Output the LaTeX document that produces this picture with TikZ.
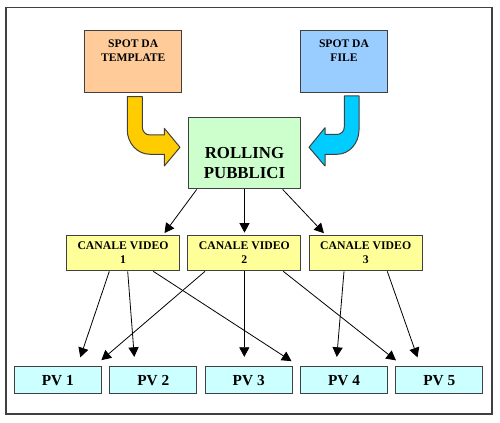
\documentclass[tikz,border=0pt]{standalone}
\usepackage{fontspec}
\setmainfont{Liberation Serif}
\usepackage{xcolor}
\usepackage{tikz}
\usetikzlibrary{arrows.meta,calc}

\definecolor{peach}{HTML}{FFCC99}
\definecolor{skyblue}{HTML}{99CCFF}
\definecolor{mint}{HTML}{CCFFCC}
\definecolor{lemon}{HTML}{FFFF99}
\definecolor{aqua}{HTML}{CCFFFF}
\definecolor{gold}{HTML}{FFCC00}
\definecolor{cyanarrow}{HTML}{00CCFF}
\definecolor{edge}{HTML}{404040}

\begin{document}
\begin{tikzpicture}[x=0.75pt,y=0.75pt,yscale=-1,xscale=1,
  box/.style={draw=edge,line width=0.75pt,inner sep=0pt,font=\bfseries},
  spotbox/.style={box,minimum height=46.5pt,font=\fontsize{8.7pt}{10pt}\selectfont\bfseries},
  canalebox/.style={box,fill=lemon,minimum width=84.5pt,minimum height=26.8pt,align=center,font=\fontsize{8.8pt}{10.5pt}\selectfont\bfseries},
  pvbox/.style={box,fill=aqua,minimum width=65.25pt,minimum height=20.25pt,font=\fontsize{11.5pt}{13pt}\selectfont\bfseries},
  arr/.style={-{Triangle[length=7.2pt,width=7.6pt]},line width=0.6pt},
  blockarrow/.style={draw=edge,line width=0.75pt,line join=round}]
\useasboundingbox (0,0) rectangle (500,423);

%Shape: Rectangle (frame)
\draw [color=edge,line width=1pt] (6,7.5) rectangle (492,414);

% Text Node
\node [spotbox,fill=peach,minimum width=72.75pt] (tpl) at (133.2,62)
  {\parbox[c][46.5pt][t]{72pt}{\vspace*{6.75pt}\centering SPOT DA\\TEMPLATE\par}};
% Text Node
\node [spotbox,fill=skyblue,minimum width=65pt] (file) at (344,62)
  {\parbox[c][46.5pt][t]{64pt}{\vspace*{6.75pt}\centering SPOT DA\\FILE\par}};
% Text Node
\node [box,fill=mint,minimum width=84.3pt,minimum height=53.5pt,font=\fontsize{12.6pt}{15pt}\selectfont\bfseries] (roll) at (244.5,153.3)
  {\parbox[c][53.5pt][t]{84pt}{\vspace*{22pt}\centering ROLLING\\PUBBLICI\par}};

% Text Node
\node [canalebox] (cv1) at (123,253) {CANALE VIDEO\\1};
% Text Node
\node [canalebox] (cv2) at (244.3,253) {CANALE VIDEO\\2};
% Text Node
\node [canalebox] (cv3) at (365.7,253) {CANALE VIDEO\\3};

% Text Node
\node [pvbox] (pv1) at (57.8,380.2) {PV 1};
% Text Node
\node [pvbox] (pv2) at (153.3,380.2) {PV 2};
% Text Node
\node [pvbox] (pv3) at (248.7,380.2) {PV 3};
% Text Node
\node [pvbox] (pv4) at (344,380.2) {PV 4};
% Text Node
\node [pvbox] (pv5) at (439.3,380.2) {PV 5};

%Shape: Bent Arrow (template)
\draw [blockarrow,fill=gold] (127.3,96.7) -- (142.3,96.7) -- (142.3,127)
  .. controls (142.3,131.5) and (145.5,135) .. (150,135) -- (164.3,135) -- (164.3,128.3)
  -- (180,147.3) -- (164.3,166) -- (164.3,154.3) -- (150,154.3)
  .. controls (137.5,154.3) and (127.3,143.4) .. (127.3,130) -- cycle ;
%Shape: Bent Arrow (file)
\draw [blockarrow,fill=cyanarrow] (359,96) -- (344.3,96) -- (344.3,127)
  .. controls (344.3,131.3) and (341,134.5) .. (336.5,134.5) -- (325,134.5) -- (325,127.7)
  -- (309,147.3) -- (325,166) -- (325,154.3) -- (337,154.3)
  .. controls (349.5,154.3) and (359,143) .. (359,130) -- cycle ;

%Straight Lines
\draw [arr,shorten >=1.5pt] ($(roll.south)+(-47.8,0)$) -- ($(cv1.north)+(40.3,0)$) ;
\draw [arr,shorten >=1.5pt] (roll.south) -- (roll.south |- cv2.north) ;
\draw [arr,shorten >=1.5pt] ($(roll.south)+(38.2,0)$) -- ($(cv3.north)+(-40.4,0)$) ;

%Straight Lines
\draw [arr,shorten >=7pt] ($(cv1.south)+(-13.7,0)$) -- ($(pv1.north)+(19.5,0)$) ;
\draw [arr,shorten >=7pt] ($(cv1.south)+(4.7,0)$) -- ($(pv2.north)+(-18.3,0)$) ;
\draw [arr,shorten >=7pt] ($(cv1.south)+(30.3,0)$) -- ($(pv4.north west)+(-0.7,0)$) ;
\draw [arr,shorten >=7pt] ($(cv2.south)+(-39.3,0)$) -- ($(pv1.north)+(36.5,0)$) ;
\draw [arr,shorten >=7pt] (cv2.south) -- (cv2.south |- pv3.north) ;
\draw [arr,shorten >=7pt] ($(cv2.south)+(39,0)$) -- ($(pv5.north)+(-36,0)$) ;
\draw [arr,shorten >=7pt] ($(cv3.south)+(-21.7,0)$) -- ($(pv4.north)+(-8,0)$) ;
\draw [arr,shorten >=7pt] ($(cv3.south)+(21.6,0)$) -- ($(pv5.north)+(-18.7,0)$) ;
\end{tikzpicture}
\end{document}
